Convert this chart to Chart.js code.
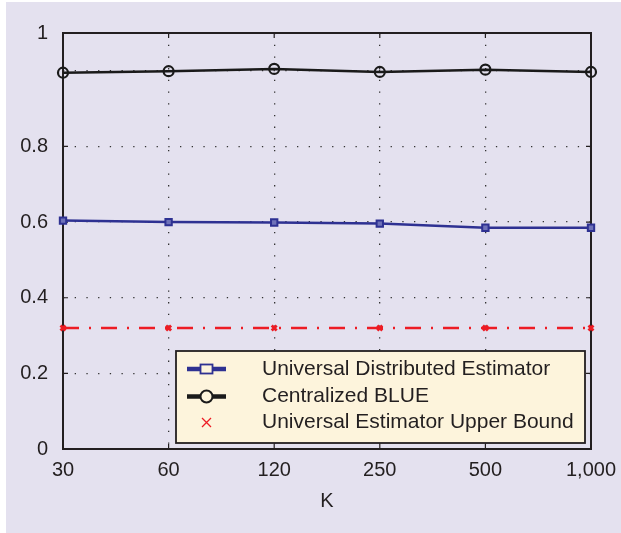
<!DOCTYPE html>
<html>
<head>
<meta charset="utf-8">
<style>
  html, body { margin: 0; padding: 0; background: #ffffff; }
  #wrap { position: relative; width: 621px; height: 533px; }
</style>
<script src="https://cdn.jsdelivr.net/npm/chart.js@4.4.1/dist/chart.umd.min.js"></script>
</head>
<body>
<div id="wrap"><canvas id="chart" width="621" height="533"></canvas></div>
<script>
// Number of sensors K on the horizontal axis
const kLabels = ['30', '60', '120', '250', '500', '1,000'];

// Estimator curves
const universalDistributed = [0.604, 0.600, 0.599, 0.596, 0.585, 0.585];
const centralizedBlue = [0.995, 0.999, 1.005, 0.997, 1.003, 0.997];
const upperBound = [0.32, 0.32, 0.32, 0.32, 0.32, 0.32];

// Vertical axis ticks and their printed labels
const yTickValues = [0, 0.2, 0.4, 0.6, 0.8, 1.0, 1.1];
const yTickLabels = ['0', '0.2', '0.4', '0.6', '0.8', '', '1'];

const seriesNames = [
  'Universal Distributed Estimator',
  'Centralized BLUE',
  'Universal Estimator Upper Bound'
];

const FONT = "'Liberation Sans', Arial, Helvetica, sans-serif";
const TEXT = '#231f20';
const BLUE = '#2e3192';
const RED = '#ed1c24';

// Lavender page panel, plot frame and in-plot legend
const panelPlugin = {
  id: 'panel',
  beforeDraw(chart) {
    const ctx = chart.ctx;
    ctx.save();
    ctx.fillStyle = '#ffffff';
    ctx.fillRect(0, 0, chart.width, chart.height);
    ctx.fillStyle = '#e4e1ef';
    ctx.fillRect(6, 2, chart.width - 6, chart.height - 2);
    ctx.restore();
  },
  beforeDatasetsDraw(chart) {
    // Box around the plot area with small inward tick marks
    const ctx = chart.ctx;
    const a = chart.chartArea;
    const xs = chart.scales.x, ys = chart.scales.y;
    ctx.save();
    ctx.strokeStyle = '#231f20';
    ctx.lineWidth = 2;
    ctx.strokeRect(a.left, a.top, a.right - a.left, a.bottom - a.top);
    ctx.lineWidth = 1.2;
    ctx.beginPath();
    kLabels.forEach((_, i) => {
      const x = xs.getPixelForValue(i);
      ctx.moveTo(x, a.top); ctx.lineTo(x, a.top + 5);
      ctx.moveTo(x, a.bottom); ctx.lineTo(x, a.bottom - 5);
    });
    yTickValues.slice(0, 5).forEach(v => {
      const y = ys.getPixelForValue(v);
      ctx.moveTo(a.left, y); ctx.lineTo(a.left + 5, y);
      ctx.moveTo(a.right, y); ctx.lineTo(a.right - 5, y);
    });
    ctx.stroke();
    ctx.restore();
  },
  afterDraw(chart) {
    const ctx = chart.ctx;
    const a = chart.chartArea;
    const bx = a.left + 113, by = a.top + 318, bw = 409, bh = 92;
    ctx.save();
    ctx.fillStyle = '#fdf4dc';
    ctx.fillRect(bx, by, bw, bh);
    ctx.strokeStyle = '#231f20';
    ctx.lineWidth = 1.8;
    ctx.strokeRect(bx, by, bw, bh);
    const rows = [by + 18, by + 45.5, by + 71.5];
    const x0 = bx + 11, x1 = bx + 50, xm = (x0 + x1) / 2;
    const ds = chart.data.datasets;
    // row 1: blue line with square
    ctx.lineWidth = 4.5;
    ctx.strokeStyle = ds[0].borderColor;
    ctx.beginPath(); ctx.moveTo(x0, rows[0]); ctx.lineTo(x1, rows[0]); ctx.stroke();
    ctx.lineWidth = 1.8;
    ctx.fillStyle = '#fdf4dc';
    ctx.fillRect(xm - 6, rows[0] - 4.5, 12, 9);
    ctx.strokeRect(xm - 6, rows[0] - 4.5, 12, 9);
    // row 2: black line with circle
    ctx.lineWidth = 4.5;
    ctx.strokeStyle = ds[1].borderColor;
    ctx.beginPath(); ctx.moveTo(x0, rows[1]); ctx.lineTo(x1, rows[1]); ctx.stroke();
    ctx.lineWidth = 2;
    ctx.beginPath(); ctx.arc(xm, rows[1], 6, 0, Math.PI * 2);
    ctx.fillStyle = '#fdf4dc'; ctx.fill(); ctx.stroke();
    // row 3: red cross only
    ctx.strokeStyle = ds[2].borderColor;
    ctx.lineWidth = 1.3;
    ctx.beginPath();
    ctx.moveTo(xm - 4.5, rows[2] - 4.5); ctx.lineTo(xm + 4.5, rows[2] + 4.5);
    ctx.moveTo(xm + 4.5, rows[2] - 4.5); ctx.lineTo(xm - 4.5, rows[2] + 4.5);
    ctx.stroke();
    ctx.fillStyle = TEXT;
    ctx.font = '21px ' + FONT;
    ctx.textBaseline = 'middle';
    ctx.textAlign = 'left';
    ds.forEach((d, i) => ctx.fillText(d.label, bx + 86, rows[i]));
    ctx.restore();
  }
};

new Chart(document.getElementById('chart'), {
  type: 'line',
  data: {
    labels: kLabels,
    datasets: [
      {
        label: seriesNames[0],
        data: universalDistributed,
        borderColor: BLUE,
        borderWidth: 2.5,
        pointStyle: 'rect',
        pointRadius: 4.5,
        pointBorderWidth: 2,
        pointBackgroundColor: '#6f72b8',
        pointBorderColor: BLUE,
        tension: 0
      },
      {
        label: seriesNames[1],
        data: centralizedBlue,
        borderColor: '#1a1a1a',
        borderWidth: 2.5,
        pointStyle: 'circle',
        pointRadius: 5,
        pointBorderWidth: 2.2,
        pointBackgroundColor: 'rgba(0,0,0,0)',
        pointBorderColor: '#1a1a1a',
        tension: 0
      },
      {
        label: seriesNames[2],
        data: upperBound,
        borderColor: RED,
        borderWidth: 2.7,
        borderDash: [16, 10, 2, 10],
        pointStyle: 'crossRot',
        pointRadius: 3.5,
        pointBorderWidth: 2.8,
        pointBorderColor: RED,
        tension: 0
      }
    ]
  },
  options: {
    responsive: false,
    animation: false,
    clip: false,
    layout: { padding: { top: 33, right: 30, left: 0, bottom: 20 } },
    plugins: {
      legend: { display: false },
      tooltip: { enabled: false }
    },
    scales: {
      x: {
        type: 'category',
        offset: false,
        grid: {
          offset: false,
          color: '#333333',
          lineWidth: 1.3,
          drawTicks: false
        },
        border: { display: false, dash: [1.3, 10.4] },
        ticks: {
          color: TEXT,
          font: { family: FONT, size: 20 },
          padding: 9,
          maxRotation: 0,
          autoSkip: false
        },
        title: {
          display: true,
          text: 'K',
          color: TEXT,
          font: { family: FONT, size: 20 },
          padding: 0
        },
        afterFit(scale) {
          scale.height = 64;
          scale.paddingLeft = 0;
          scale.paddingRight = 0;
        }
      },
      y: {
        type: 'linear',
        min: 0,
        max: 1.1,
        grid: {
          color: '#333333',
          lineWidth: 1.3,
          drawTicks: false
        },
        border: { display: false, dash: [1.3, 10.4] },
        afterBuildTicks(scale) {
          scale.ticks = yTickValues.map(v => ({ value: v }));
        },
        ticks: {
          color: TEXT,
          font: { family: FONT, size: 20 },
          padding: 15,
          callback(value) {
            const i = yTickValues.findIndex(v => Math.abs(v - value) < 1e-9);
            return i >= 0 ? yTickLabels[i] : '';
          }
        },
        afterFit(scale) {
          scale.width = 63;
          scale.paddingTop = 0;
          scale.paddingBottom = 0;
        }
      }
    }
  },
  plugins: [panelPlugin]
});
</script>
</body>
</html>
